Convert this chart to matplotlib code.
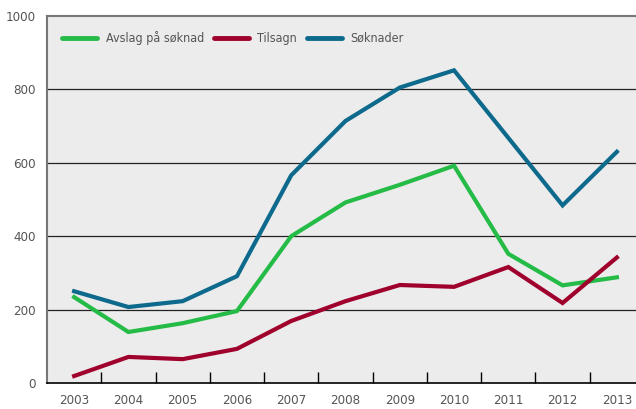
import numpy as np
import matplotlib
matplotlib.use("Agg")
import matplotlib.pyplot as plt
from matplotlib.ticker import FixedLocator

years = ["2003", "2004", "2005", "2006", "2007", "2008", "2009", "2010", "2011", "2012", "2013"]
avslag = [234, 139, 163, 196, 400, 492, 540, 592, 352, 266, 288]
tilsagn = [19, 71, 65, 93, 169, 223, 267, 262, 316, 218, 342]
soknader = [250, 207, 223, 291, 566, 714, 805, 852, 668, 484, 630]

plt.rcParams['font.family'] = ['DejaVu Sans']
plt.rcParams['font.stretch'] = 'condensed'
txt = "#555555"

fig = plt.figure(figsize=(6.36, 4.09), dpi=100)
ax = fig.add_axes([47/636, 26/409, 597/636, 367/409])
ax.set_facecolor("#ececec")

x = np.arange(len(years))
ax.plot(x, avslag, color="#25bb47", lw=3, label="Avslag på søknad", solid_joinstyle="miter")
ax.plot(x, tilsagn, color="#a0002c", lw=3, label="Tilsagn", solid_joinstyle="miter")
ax.plot(x, soknader, color="#0e6a8c", lw=3, label="Søknader", solid_joinstyle="miter")

ax.set_xlim(-0.5, 10.5)
ax.set_ylim(0, 1000)
for v in [200, 400, 600, 800]:
    ax.axhline(v, color="#222222", lw=0.9, zorder=1)

ax.set_yticks([0, 200, 400, 600, 800, 1000])
ax.tick_params(axis="y", length=0, labelsize=9.5, labelcolor=txt, pad=8)
ax.set_xticks(x)
ax.set_xticklabels(years)
ax.tick_params(axis="x", length=0, labelsize=9.5, labelcolor=txt, pad=8)
ax.xaxis.set_minor_locator(FixedLocator(np.arange(0.5, 10.5, 1)))
ax.tick_params(axis="x", which="minor", direction="in", length=8, width=1, color="black")

ax.spines["top"].set_color("#777777")
ax.spines["top"].set_linewidth(1.5)
ax.spines["left"].set_color("#777777")
ax.spines["left"].set_linewidth(1.5)
ax.spines["bottom"].set_color("black")
ax.spines["bottom"].set_linewidth(1.2)
ax.spines["right"].set_visible(False)

leg = ax.legend(loc="upper left", ncol=3, frameon=False, fontsize=9,
                handlelength=2.8, handletextpad=0.65, columnspacing=0.8,
                bbox_to_anchor=(0.007, 0.99), labelcolor=txt)
for l in leg.get_lines():
    l.set_linewidth(3.5)
    l.set_solid_capstyle("round")

fig.savefig("out.png", dpi=100)
